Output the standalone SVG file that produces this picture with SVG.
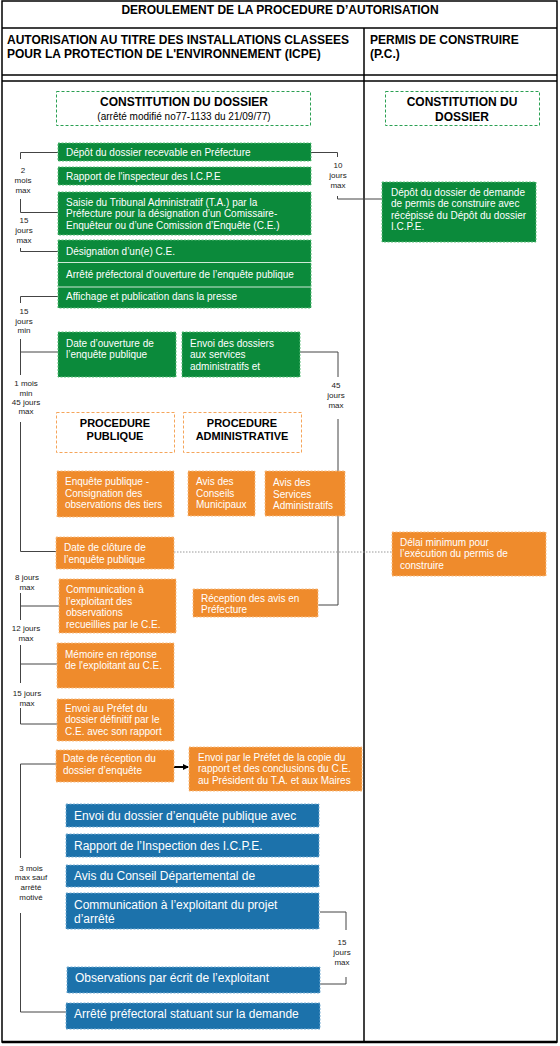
<svg xmlns="http://www.w3.org/2000/svg" width="560" height="1046" viewBox="0 0 560 1046">
<defs>
<style>
.g{fill:#0b8a3b;stroke:#5cbf7a;stroke-width:1;stroke-dasharray:2 1.5}
.o{fill:#ef8b2c;stroke:#f8bf85;stroke-width:1;stroke-dasharray:2 1.5}
.b{fill:#1c72ab;stroke:#77aed4;stroke-width:1;stroke-dasharray:2 1.5}
.og{fill:none;stroke:#2aa052;stroke-width:1;stroke-dasharray:3 2}
.oo{fill:none;stroke:#f5a55a;stroke-width:1;stroke-dasharray:3 2}
text{font-family:"Liberation Sans",Arial,sans-serif}
.t{font-size:10px;fill:#fff}
.tb{font-size:12px;fill:#fff}
.h{font-size:12px;font-weight:bold;fill:#000}
.h11{font-size:11px;font-weight:bold;fill:#000;text-anchor:middle}
.sub{font-size:10px;fill:#000;text-anchor:middle}
.l{font-size:8px;fill:#222;text-anchor:middle}
.ln{stroke:#444;stroke-width:1;fill:none}
.fr{stroke:#000;stroke-width:1.5;fill:none}
</style>
<marker id="ah" markerWidth="6" markerHeight="6" refX="5" refY="3" orient="auto" markerUnits="userSpaceOnUse">
<path d="M0,0 L6,3 L0,6 z" fill="#000"/>
</marker>
</defs>
<rect width="560" height="1046" fill="#fff"/>
<g id="frame">
<rect class="fr" x="2" y="1" width="555" height="1041"/>
<line class="fr" x1="2" y1="28" x2="557" y2="28"/>
<line class="fr" x1="2" y1="75" x2="557" y2="75"/>
<line class="fr" x1="2" y1="81" x2="557" y2="81"/>
<line class="fr" x1="364" y1="28" x2="364" y2="1042"/>
<line x1="2" y1="1042" x2="557" y2="1042" stroke="#000" stroke-width="2.5"/>
<text class="h" x="280" y="14" text-anchor="middle">DEROULEMENT DE LA PROCEDURE D’AUTORISATION</text>
<text class="h" x="7" y="44">AUTORISATION AU TITRE DES INSTALLATIONS CLASSEES</text>
<text class="h" x="7" y="58">POUR LA PROTECTION DE L'ENVIRONNEMENT (ICPE)</text>
<text class="h" x="370" y="44">PERMIS DE CONSTRUIRE</text>
<text class="h" x="370" y="58">(P.C.)</text>
</g>
<g id="connectors">
<!-- left timeline -->
<path class="ln" d="M58,152.5 H20.5 V159"/>
<path class="ln" d="M20.5,199 V212.5 H58"/>
<path class="ln" d="M20.5,248 V251.5 H58"/>
<path class="ln" d="M58,296.5 H20.5 V303"/>
<path class="ln" d="M20.5,339 V375 M20.5,352 H58"/>
<path class="ln" d="M20.5,422 V551.5 H56"/>
<path class="ln" d="M20.5,593 V620 M20.5,606 H59"/>
<path class="ln" d="M20.5,645 V683 M20.5,664 H57"/>
<path class="ln" d="M20.5,708 V724 H57"/>
<path class="ln" d="M56,764 H20.5 V858"/>
<path class="ln" d="M20.5,913 V1012 H66"/>
<!-- right brackets -->
<path class="ln" d="M311,152.5 H337.5 V157"/>
<path class="ln" d="M337.5,196 V199 H382"/>
<path class="ln" d="M300,352 H338 V377"/>
<path class="ln" d="M338,419 V471"/>
<path class="ln" d="M338,516 V605 H318"/>
<path class="ln" d="M320,912 H346 V930"/>
<path class="ln" d="M346,977 V984 H320"/>
<line x1="174" y1="552" x2="392" y2="552" stroke="#999" stroke-width="1" stroke-dasharray="1.5 1.5"/>
<line x1="174" y1="767" x2="188" y2="767" stroke="#000" stroke-width="2" marker-end="url(#ah)"/>
<!-- labels -->
<text class="l" x="23" y="173">2</text><text class="l" x="23" y="183">mois</text><text class="l" x="23" y="193">max</text>
<text class="l" x="24" y="223">15</text><text class="l" x="24" y="233">jours</text><text class="l" x="24" y="243">max</text>
<text class="l" x="24" y="314">15</text><text class="l" x="24" y="324">jours</text><text class="l" x="24" y="333">min</text>
<text class="l" x="26" y="386">1 mois</text><text class="l" x="26" y="396">min</text><text class="l" x="26" y="405">45 jours</text><text class="l" x="26" y="414">max</text>
<text class="l" x="27" y="580">8 jours</text><text class="l" x="27" y="590">max</text>
<text class="l" x="26" y="631">12 jours</text><text class="l" x="26" y="641">max</text>
<text class="l" x="27" y="696">15 jours</text><text class="l" x="27" y="706">max</text>
<text class="l" x="31" y="871">3 mois</text><text class="l" x="31" y="880">max sauf</text><text class="l" x="31" y="890">arrêté</text><text class="l" x="31" y="900">motivé</text>
<text class="l" x="338" y="168">10</text><text class="l" x="338" y="178">jours</text><text class="l" x="338" y="188">max</text>
<text class="l" x="336" y="388">45</text><text class="l" x="336" y="398">jours</text><text class="l" x="336" y="408">max</text>
<text class="l" x="342" y="945">15</text><text class="l" x="342" y="955">jours</text><text class="l" x="342" y="965">max</text>
</g>
<g id="n-constitution">
<rect class="og" x="56.5" y="91.5" width="254" height="34"/>
<text class="h" x="184" y="106" text-anchor="middle">CONSTITUTION DU DOSSIER</text>
<text class="sub" x="184" y="119.5">(arrêté modifié no77-1133 du 21/09/77)</text>
</g>
<g id="n-constitution-pc">
<rect class="og" x="385.5" y="91.5" width="154" height="34"/>
<text class="h" x="462" y="106" text-anchor="middle">CONSTITUTION DU</text>
<text class="h" x="462" y="121" text-anchor="middle">DOSSIER</text>
</g>
<g id="n-depot">
<rect class="g" x="58" y="143" width="253" height="18"/>
<text class="t" x="66" y="156">Dépôt du dossier recevable en Préfecture</text>
</g>
<g id="n-rapport">
<rect class="g" x="58" y="167" width="253" height="18"/>
<text class="t" x="66" y="179.5">Rapport de l'inspecteur des I.C.P.E</text>
</g>
<g id="n-saisie">
<rect class="g" x="58" y="192" width="253" height="43"/>
<text class="t" x="66" y="205.5">Saisie du Tribunal Administratif (T.A.) par la</text>
<text class="t" x="66" y="217">Préfecture pour la désignation d’un Comissaire-</text>
<text class="t" x="66" y="228.5">Enquêteur ou d’une Comission d’Enquête (C.E.)</text>
</g>
<g id="n-designation">
<rect class="g" x="58" y="240" width="253" height="68"/>
<line x1="58" y1="262.5" x2="311" y2="262.5" stroke="#cfe9d7" stroke-width="1"/>
<line x1="58" y1="287" x2="311" y2="287" stroke="#cfe9d7" stroke-width="1"/>
<text class="t" x="66" y="254.5">Désignation d’un(e) C.E.</text>
<text class="t" x="66" y="278">Arrêté préfectoral d’ouverture de l’enquête publique</text>
<text class="t" x="66" y="300">Affichage et publication dans la presse</text>
</g>
<g id="n-ouverture">
<rect class="g" x="58" y="332" width="118" height="45"/>
<text class="t" x="66" y="346.5">Date d’ouverture de</text>
<text class="t" x="66" y="358">l’enquête publique</text>
</g>
<g id="n-envoi-dossiers">
<rect class="g" x="182" y="332" width="118" height="45"/>
<text class="t" x="190" y="346.5">Envoi des dossiers</text>
<text class="t" x="190" y="358">aux services</text>
<text class="t" x="190" y="369.5">administratifs et</text>
</g>
<g id="n-depot-pc">
<rect class="g" x="382" y="182" width="154" height="60"/>
<text class="t" x="391" y="195.5">Dépôt du dossier de demande</text>
<text class="t" x="391" y="207">de permis de construire avec</text>
<text class="t" x="391" y="218.5">récépissé du Dépôt du dossier</text>
<text class="t" x="391" y="230">I.C.P.E.</text>
</g>
<g id="n-proc-publique">
<rect class="oo" x="56.5" y="412.5" width="118" height="40"/>
<text class="h11" x="115" y="427">PROCEDURE</text>
<text class="h11" x="115" y="440">PUBLIQUE</text>
</g>
<g id="n-proc-admin">
<rect class="oo" x="183.5" y="412.5" width="118" height="40"/>
<text class="h11" x="242" y="427">PROCEDURE</text>
<text class="h11" x="242" y="440">ADMINISTRATIVE</text>
</g>
<g id="n-enquete">
<rect class="o" x="57" y="471" width="117" height="46"/>
<text class="t" x="65" y="485">Enquête publique -</text>
<text class="t" x="65" y="496.5">Consignation des</text>
<text class="t" x="65" y="508">observations des tiers</text>
</g>
<g id="n-conseils">
<rect class="o" x="188" y="471" width="67" height="45"/>
<text class="t" x="196" y="485">Avis des</text>
<text class="t" x="196" y="496.5">Conseils</text>
<text class="t" x="196" y="508">Municipaux</text>
</g>
<g id="n-services">
<rect class="o" x="265" y="471" width="80" height="45"/>
<text class="t" x="273" y="486">Avis des</text>
<text class="t" x="273" y="497.5">Services</text>
<text class="t" x="273" y="509">Administratifs</text>
</g>
<g id="n-cloture">
<rect class="o" x="56" y="537" width="118" height="32"/>
<text class="t" x="64" y="551">Date de clôture de</text>
<text class="t" x="64" y="562.5">l’enquête publique</text>
</g>
<g id="n-delai">
<rect class="o" x="392" y="532" width="154" height="44"/>
<text class="t" x="400" y="545.5">Délai minimum pour</text>
<text class="t" x="400" y="557">l’exécution du permis de</text>
<text class="t" x="400" y="568.5">construire</text>
</g>
<g id="n-communication">
<rect class="o" x="59" y="579" width="117" height="54"/>
<text class="t" x="66" y="593">Communication à</text>
<text class="t" x="66" y="604.5">l’exploitant des</text>
<text class="t" x="66" y="616">observations</text>
<text class="t" x="66" y="627.5">recueillies par le C.E.</text>
</g>
<g id="n-reception-avis">
<rect class="o" x="193" y="589" width="125" height="28"/>
<text class="t" x="201" y="601.5">Réception des avis en</text>
<text class="t" x="201" y="613">Préfecture</text>
</g>
<g id="n-memoire">
<rect class="o" x="57" y="643" width="117" height="45"/>
<text class="t" x="65" y="657.5">Mémoire en réponse</text>
<text class="t" x="65" y="669">de l'exploitant au C.E.</text>
</g>
<g id="n-envoi-prefet">
<rect class="o" x="57" y="699" width="117" height="42"/>
<text class="t" x="65" y="711.5">Envoi au Préfet du</text>
<text class="t" x="65" y="723">dossier définitif par le</text>
<text class="t" x="65" y="734.5">C.E. avec son rapport</text>
</g>
<g id="n-reception-dossier">
<rect class="o" x="56" y="750" width="118" height="32"/>
<text class="t" x="63" y="762">Date de réception du</text>
<text class="t" x="63" y="773.5">dossier d’enquête</text>
</g>
<g id="n-envoi-copie">
<rect class="o" x="189" y="747" width="173" height="44"/>
<text class="t" x="198" y="760.5">Envoi par le Préfet de la copie du</text>
<text class="t" x="198" y="772">rapport et des conclusions du C.E.</text>
<text class="t" x="198" y="783.5">au Président du T.A. et aux Maires</text>
</g>
<g id="n-envoi-enquete">
<rect class="b" x="66" y="804" width="253" height="23"/>
<text class="tb" x="74" y="820">Envoi du dossier d’enquête publique avec</text>
</g>
<g id="n-rapport-inspection">
<rect class="b" x="66" y="834" width="253" height="23"/>
<text class="tb" x="74" y="849.5">Rapport de l’Inspection des I.C.P.E.</text>
</g>
<g id="n-avis-conseil">
<rect class="b" x="66" y="865" width="253" height="22"/>
<text class="tb" x="74" y="880">Avis du Conseil Départemental de</text>
</g>
<g id="n-communication-projet">
<rect class="b" x="66" y="893" width="253" height="36"/>
<text class="tb" x="74" y="909">Communication à l’exploitant du projet</text>
<text class="tb" x="74" y="922.5">d’arrêté</text>
</g>
<g id="n-observations">
<rect class="b" x="67" y="967" width="253" height="26"/>
<text class="tb" x="75" y="982">Observations par écrit de l’exploitant</text>
</g>
<g id="n-arrete">
<rect class="b" x="66" y="1003" width="254" height="26"/>
<text class="tb" x="74" y="1018">Arrêté préfectoral statuant sur la demande</text>
</g>
</svg>
